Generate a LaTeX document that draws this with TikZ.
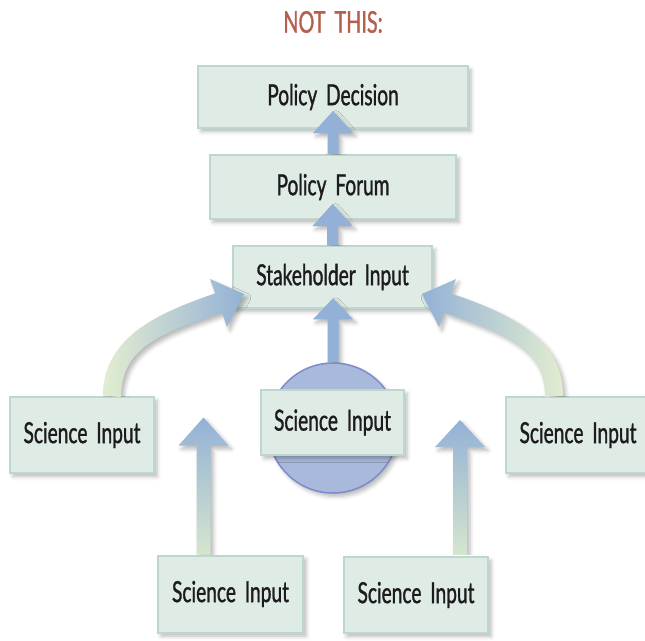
\documentclass[tikz,border=0pt]{standalone}
\usepackage{fontspec}
\setmainfont{Lato}[FakeStretch=0.66,WordSpace=1.8,FakeBold=1.1]
\usetikzlibrary{shadows.blur,calc}

\definecolor{boxfill}{HTML}{DEECE5}
\definecolor{boxline}{HTML}{BDD6CF}
\definecolor{arrblue}{HTML}{93B1D6}
\definecolor{arrteal}{HTML}{A3C9C5}
\definecolor{arrpale}{HTML}{E2EDD0}
\definecolor{discfill}{HTML}{A9B9DB}
\definecolor{discline}{HTML}{7D8BC9}
\definecolor{titlecol}{HTML}{B5604D}
\definecolor{ink}{HTML}{1E1B1C}

\tikzset{
  softshadow/.style={blur shadow={shadow xshift=3pt, shadow yshift=-3.5pt,
      shadow blur radius=4pt, shadow opacity=28}},
  box/.style={rectangle, fill=boxfill, draw=boxline, line width=2pt,
      inner sep=0pt, text=ink, font=\fontsize{29}{32}\selectfont, softshadow},
  solidarrow/.style={fill=arrblue, softshadow},
  risearrow/.style={top color=arrblue, middle color=arrteal, bottom color=arrpale!80!arrteal, softshadow},
  leftcurve/.style={left color=arrpale, middle color=arrteal!80!arrpale, right color=arrblue, softshadow},
  rightcurve/.style={right color=arrpale, middle color=arrteal!80!arrpale, left color=arrblue, softshadow},
}

% straight upward block arrow:
% #1 style, #2 start point, #3 length to tip, #4 shaft width, #5 head width, #6 head length
\newcommand\blockup[6]{%
  \path[#1] #2 ++(-#4/2,0) -- ++(0,-#3+#6) -- ++(-#5/2+#4/2,0)
    -- ++(#5/2,-#6) -- ++(#5/2,#6) -- ++(-#5/2+#4/2,0) -- ++(0,#3-#6) -- cycle;}
% keep an arrow and its shadow above the top edge of the node it leaves
\newcommand\abovetop[1]{\clip (origin) rectangle (#1.north -| farright);}

\begin{document}
\begin{tikzpicture}[x=1pt,y=-1pt]
\useasboundingbox (0,0) rectangle (645,640);
\coordinate (origin) at (0,0);
\coordinate (farright) at (645,0);

\node[text=titlecol, font=\fontsize{30}{32}\selectfont] (title) at (333,22) {NOT THIS:};

% boxes of the chain
\node[box, minimum width=270pt, minimum height=62pt] (pd) at (333,97) {Policy Decision};
\node[box, minimum width=246pt, minimum height=64pt] (pf) at (333,187) {Policy Forum};
\node[box, minimum width=199pt, minimum height=62pt] (sh) at (332.5,277) {Stakeholder Input};

% science inputs at the sides and bottom
\node[box, minimum width=144pt, minimum height=76pt] (sl) at (82,435) {Science Input};
\node[box, minimum width=144pt, minimum height=76pt] (sr) at (578,435) {Science Input};
\node[box, minimum width=145pt, minimum height=77pt] (bl) at (230.5,594) {Science Input};
\node[box, minimum width=144pt, minimum height=76pt] (br) at (416,595) {Science Input};

% central disc with its science input
\node[circle, minimum size=130pt, inner sep=0pt, fill=discfill, draw=discline,
      line width=1.5pt, softshadow] (disc) at (333,428) {};
\node[box, minimum width=143pt, minimum height=65pt] (sm) at (332.5,422.5) {Science Input};

% arrows up the chain
\begin{scope}\abovetop{pf}
\blockup{solidarrow}{(pf.north)}{43}{11}{40}{22}
\end{scope}
\begin{scope}\abovetop{sh}
\blockup{solidarrow}{(sh.north)}{41}{11}{40}{22}
\end{scope}
\begin{scope}\abovetop{disc}
\blockup{solidarrow}{(disc.north)}{64}{11}{40}{21}
\end{scope}

% arrows rising from the bottom inputs
\begin{scope}\abovetop{bl}
\blockup{risearrow}{([xshift=-27pt]bl.north)}{137}{14}{50}{28}
\blockup{risearrow}{([xshift=44pt]br.north)}{136}{14}{50}{27}
\end{scope}

% curved arrows from the side inputs
\begin{scope}\abovetop{sl}
\path[leftcurve] ([xshift=21pt]sl.north) .. controls (103,337) and (158,313) .. (215.1,293.4)
  -- (210,279) -- (244,294) -- (227,327) -- (221.9,312.6)
  .. controls (166,332) and (121,345) .. (121,397) -- cycle;
\path[rightcurve] ([xshift=-15pt]sr.north) .. controls (563,337) and (508,313) .. (450.9,293.4)
  -- (456,279) -- (422,294) -- (439,327) -- (444.1,312.6)
  .. controls (500,332) and (545,345) .. (545,397) -- cycle;
\end{scope}
\end{tikzpicture}
\end{document}
